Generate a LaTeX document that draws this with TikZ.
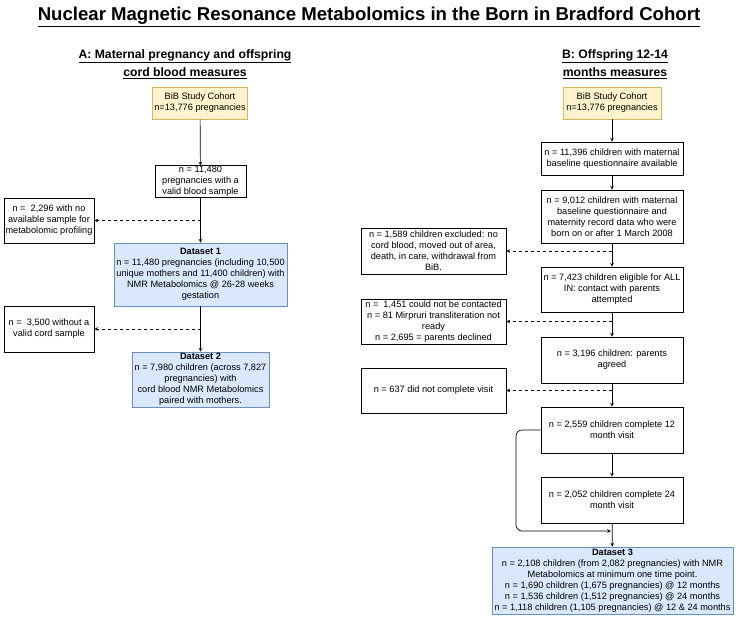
\documentclass[tikz,border=0pt]{standalone}
\usepackage{fontspec}
\setmainfont{Liberation Sans}
\usepackage{tikz}
\usetikzlibrary{arrows}
\usetikzlibrary{calc}
\definecolor{cohortfill}{HTML}{FFF2CC}
\definecolor{cohortline}{HTML}{D6B656}
\definecolor{datafill}{HTML}{DAE8FC}
\definecolor{dataline}{HTML}{6C8EBF}
\begin{document}
\begin{tikzpicture}[x=1pt, y=-1pt,
box/.style={draw, fill=white, align=center, inner sep=0.5pt, line width=0.7pt, font=\fontsize{9.2}{11}\selectfont},
cohort/.style={box, draw=cohortline, fill=cohortfill},
dataset/.style={box, draw=dataline, fill=datafill},
flow/.style={->, >=stealth, line width=0.7pt},
drop/.style={flow, dash pattern=on 3pt off 3pt},
heading/.style={align=center, font=\fontsize{12.2}{18}\selectfont\bfseries}]
\useasboundingbox (0,0) rectangle (738,621);
\node (title) at (369,17) {\fontsize{18.6}{22}\selectfont\bfseries\underline{Nuclear Magnetic Resonance Metabolomics in the Born in Bradford Cohort}};
\node[heading] (headA) at (185,64) {\underline{A: Maternal pregnancy and offspring}\\\underline{cord blood measures}};
\node[heading] (headB) at (615,64) {\underline{B: Offspring 12-14}\\\underline{months measures}};
\node[cohort, minimum width=95, minimum height=32] (bibA) at (200,103) {BiB Study Cohort\\n=13,776 pregnancies};
\node[box, minimum width=91, minimum height=31] (bloodA) at (200.5,181.5) {n = 11,480\\pregnancies with a\\valid blood sample};
\node[box, minimum width=90, minimum height=45] (noSample) at (49,220.5) {n =\ \ 2,296 with no\\available sample for\\metabolomic profiling};
\node[dataset, minimum width=173, minimum height=63] (ds1) at (200.5,274.5) {\textbf{Dataset 1}\\n = 11,480 pregnancies (including 10,500\\unique mothers and 11,400 children) with\\NMR Metabolomics @ 26-28 weeks\\gestation};
\node[box, minimum width=90, minimum height=46] (noCord) at (49,329) {n =\ \ 3,500 without a\\valid cord sample};
\node[dataset, minimum width=137, minimum height=55] (ds2) at (200.5,379.5) {\textbf{Dataset 2}\\n = 7,980 children (across 7,827\\pregnancies) with\\cord blood NMR Metabolomics\\paired with mothers.};
\draw[flow] (bibA) -- (bloodA);
\draw[flow] (bloodA) -- (ds1);
\draw[flow] (ds1) -- (ds2);
\draw[drop] (noSample.east -| bloodA.south) -- (noSample.east);
\draw[drop] (noCord.east -| ds1.south) -- (noCord.east);
\node[cohort, minimum width=98, minimum height=32] (bibB) at (612,103) {BiB Study Cohort\\n=13,776 pregnancies};
\node[box, minimum width=142, minimum height=33] (baseline) at (612,158.5) {n = 11,396 children with maternal\\baseline questionnaire available};
\node[box, minimum width=142, minimum height=53] (maternity) at (612,216.5) {n = 9,012 children with maternal\\baseline questionnaire and\\maternity record data who were\\born on or after 1 March 2008};
\node[box, minimum width=145, minimum height=46] (excluded) at (433.5,251) {n = 1,589 children excluded: no\\cord blood, moved out of area,\\death, in care, withdrawal from\\BiB.};
\node[box, minimum width=142, minimum height=45] (eligible) at (612,289.5) {n = 7,423 children eligible for ALL\\IN: contact with parents\\attempted};
\node[box, minimum width=145, minimum height=45] (notContacted) at (433.5,321.5) {n =\ \ 1,451 could not be contacted\\n = 81 Mirpruri transliteration not\\ready\\n = 2,695 = parents declined};
\node[box, minimum width=142, minimum height=46] (agreed) at (612,360) {n = 3,196 children: parents\\agreed};
\node[box, minimum width=145, minimum height=45] (noVisit) at (433.5,390.5) {n = 637 did not complete visit};
\node[box, minimum width=142, minimum height=46] (visit12) at (612,430) {n = 2,559 children complete 12\\month visit};
\node[box, minimum width=142, minimum height=46] (visit24) at (612,500) {n = 2,052 children complete 24\\month visit};
\node[dataset, minimum width=241, minimum height=67] (ds3) at (612.5,580.5) {\textbf{Dataset 3}\\n = 2,108 children (from 2,082 pregnancies) with NMR\\Metabolomics at minimum one time point.\\n = 1,690 children (1,675 pregnancies) @ 12 months\\n = 1,536 children (1,512 pregnancies) @ 24 months\\n = 1,118 children (1,105 pregnancies) @ 12 \& 24 months};
\coordinate (loop) at (516,531);
\draw[flow] (bibB) -- (baseline);
\draw[flow] (baseline) -- (maternity);
\draw[flow] (maternity) -- (eligible);
\draw[flow] (eligible) -- (agreed);
\draw[flow] (agreed) -- (visit12);
\draw[flow] (visit12) -- (visit24);
\draw[flow] (visit24) -- (ds3);
\draw[flow, rounded corners=6pt] (visit12.west) -| (loop) -- ($(loop -| visit24.south)+(-1,0)$);
\draw[drop] (excluded.east -| maternity.south) -- (excluded.east);
\draw[drop] (notContacted.east -| eligible.south) -- (notContacted.east);
\draw[drop] (noVisit.east -| agreed.south) -- (noVisit.east);
\end{tikzpicture}
\end{document}
